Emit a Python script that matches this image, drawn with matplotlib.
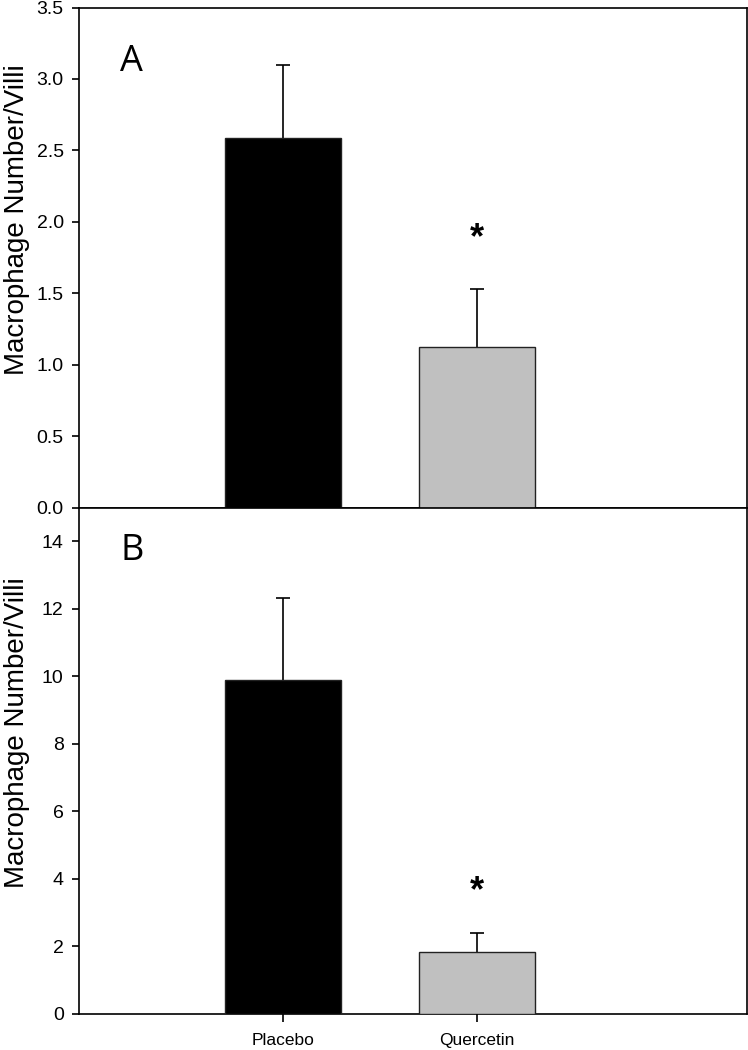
import numpy as np
from matplotlib import pyplot as plt

groups = ['Placebo', 'Quercetin']
colors = ['black', '#c0c0c0']

# panel A
a_mean = [2.59, 1.125]
a_err = [0.51, 0.405]
a_star = 1.88

# panel B
b_mean = [9.9, 1.85]
b_err = [2.42, 0.55]
b_star = 3.62

plt.rcParams['font.family'] = ['Liberation Sans', 'DejaVu Sans']

fig = plt.figure(figsize=(7.48, 10.5), dpi=100)
W, H = 748, 1050
axA = fig.add_axes([79 / W, 1 - 507.7 / H, 668 / W, 500.2 / H])
axB = fig.add_axes([79 / W, 1 - 1014 / H, 668 / W, 506.3 / H])

x = np.array([1, 2])


def draw(ax, mean, err, star, letter, ylim, yticks, ylabels, lety, laby):
    ax.bar(x, mean, width=0.6, color=colors, edgecolor='#222222', linewidth=1.0, zorder=3)
    eb = ax.errorbar(x, mean, yerr=[np.zeros(2), err], fmt='none', ecolor='black',
                     elinewidth=1.2, capsize=5, capthick=1.2, zorder=2)
    # only keep the upper caps
    for cl in eb[1]:
        if np.allclose(cl.get_ydata(), mean):
            cl.set_visible(False)
    ax.text(2, star, '*', ha='center', va='center', fontsize=26, fontweight='bold')
    ax.text(0.079, lety, letter, transform=ax.transAxes, ha='center', va='center',
            fontsize=26, family=['Open Sans', 'DejaVu Sans'])
    ax.set_xlim(-0.052, 3.39)
    ax.set_ylim(*ylim)
    ax.set_yticks(yticks)
    ax.set_yticklabels(ylabels, fontsize=14)
    ax.set_ylabel('Macrophage Number/Villi', fontsize=20)
    ax.yaxis.set_label_coords(-0.074, laby)
    ax.tick_params(axis='y', direction='out', length=5, width=1.2, pad=6)
    for s in ax.spines.values():
        s.set_linewidth(1.2)


draw(axA, a_mean, a_err, a_star, 'A', (0, 3.5), np.arange(0, 3.51, 0.5),
     ['%.1f' % v for v in np.arange(0, 3.51, 0.5)], 0.892, 0.575)
axA.set_xticks([])

draw(axB, b_mean, b_err, b_star, 'B', (0, 15), np.arange(0, 15, 2),
     [str(v) for v in range(0, 15, 2)], 0.915, 0.555)
axB.set_xticks(x)
axB.set_xticklabels(groups, fontsize=12.5)
axB.tick_params(axis='x', direction='out', length=5.5, width=1.2, pad=8.5)

fig.savefig('out.png', dpi=100)
